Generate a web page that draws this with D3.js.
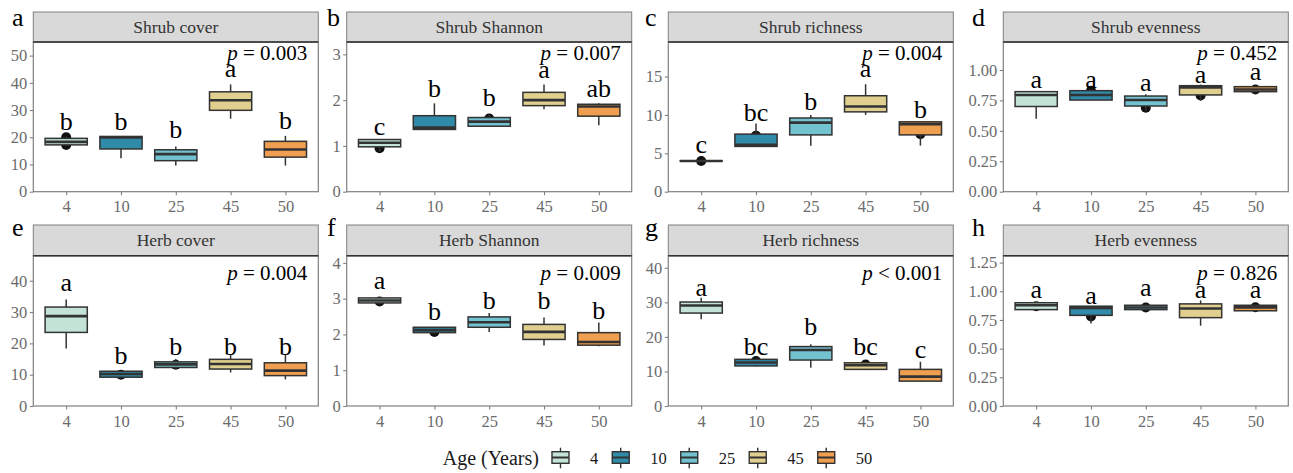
<!DOCTYPE html>
<html>
<head>
<meta charset="utf-8">
<script src="https://cdn.jsdelivr.net/npm/d3@7"></script>
<style>
  body { margin: 0; background: #fff; }
  svg text { font-family: "Liberation Serif", "Times New Roman", serif; }
</style>
</head>
<body>
<div id="chart"></div>
<script>
// ---- data ----
const ages = ['4', '10', '25', '45', '50'];
const ageColors = ['#c3e3d6', '#2f8ba7', '#73c2d0', '#e0cf8f', '#ef9f4f'];

const tags = ['a', 'b', 'c', 'd', 'e', 'f', 'g', 'h'];
const titles = ['Shrub cover', 'Shrub Shannon', 'Shrub richness', 'Shrub evenness',
                'Herb cover', 'Herb Shannon', 'Herb richness', 'Herb evenness'];
const pSigns = ['=', '=', '=', '=', '=', '=', '<', '='];
const pValues = ['0.003', '0.007', '0.004', '0.452', '0.004', '0.009', '0.001', '0.826'];

const yTops = [55, 3.27, 19.5, 1.23, 48, 4.2, 43.5, 1.31];
const yTicks = [
  [0, 10, 20, 30, 40, 50],
  [0, 1, 2, 3],
  [0, 5, 10, 15],
  [0, 0.25, 0.5, 0.75, 1],
  [0, 10, 20, 30, 40],
  [0, 1, 2, 3, 4],
  [0, 10, 20, 30, 40],
  [0, 0.25, 0.5, 0.75, 1, 1.25]
];

// [min, q1, median, q3, max] for each age
const shrubCover = [[16.8, 17.2, 18.3, 19.6, 20.3], [12.3, 15.7, 19.9, 20.3, 20.3], [9.6, 11.4, 13.8, 15.4, 16.6],
                    [26.8, 29.9, 33.6, 36.7, 39.4], [9.6, 12.7, 15.5, 18.5, 20.5]];
const shrubShannon = [[0.88, 0.98, 1.07, 1.14, 1.15], [1.36, 1.36, 1.40, 1.66, 1.93], [1.43, 1.43, 1.53, 1.62, 1.68],
                      [1.80, 1.88, 2.00, 2.17, 2.34], [1.45, 1.65, 1.86, 1.91, 1.93]];
const shrubRichness = [[4, 4, 4, 4, 4], [5.9, 5.9, 6.1, 7.5, 8.9], [6.0, 7.4, 9.0, 9.6, 10.0],
                       [10.0, 10.4, 11.1, 12.5, 14.0], [6.0, 7.4, 8.8, 9.1, 9.1]];
const shrubEvenness = [[0.60, 0.70, 0.795, 0.822, 0.822], [0.753, 0.753, 0.795, 0.83, 0.84], [0.663, 0.704, 0.753, 0.786, 0.80],
                       [0.748, 0.795, 0.857, 0.871, 0.88], [0.822, 0.822, 0.84, 0.863, 0.863]];
const herbCover = [[18.4, 23.5, 28.7, 31.6, 34.0], [9.2, 9.2, 10.2, 11.1, 11.1], [12.0, 12.3, 13.3, 14.1, 15.0],
                   [10.7, 11.8, 13.4, 14.9, 16.5], [8.5, 9.7, 11.3, 13.8, 16.3]];
const herbShannon = [[2.87, 2.88, 2.95, 3.02, 3.03], [2.03, 2.05, 2.12, 2.20, 2.20], [2.07, 2.20, 2.34, 2.49, 2.60],
                     [1.69, 1.86, 2.07, 2.28, 2.47], [1.67, 1.70, 1.79, 2.05, 2.33]];
const herbRichness = [[25.1, 26.9, 29.1, 30.1, 31.3], [11.5, 11.6, 12.6, 13.5, 13.5], [11.1, 13.3, 16.2, 17.2, 17.9],
                      [10.4, 10.6, 11.8, 12.5, 12.5], [7.0, 7.2, 8.5, 10.6, 12.8]];
const herbEvenness = [[0.84, 0.84, 0.878, 0.90, 0.90], [0.72, 0.79, 0.855, 0.87, 0.87], [0.84, 0.84, 0.858, 0.878, 0.878],
                      [0.70, 0.77, 0.85, 0.89, 0.92], [0.83, 0.83, 0.86, 0.878, 0.878]];
const boxStats = [shrubCover, shrubShannon, shrubRichness, shrubEvenness,
                  herbCover, herbShannon, herbRichness, herbEvenness];

// visible sample points [age index, value]
const dots = [
  [[0, 20.0], [0, 17.2]],
  [[0, 0.95], [2, 1.60]],
  [[0, 4], [1, 7.3], [4, 7.5]],
  [[1, 0.83], [2, 0.69], [3, 0.79], [4, 0.84]],
  [[1, 10.0], [2, 13.2]],
  [[0, 2.92], [1, 2.07]],
  [[1, 13.0], [3, 12.0]],
  [[0, 0.87], [1, 0.78], [2, 0.858], [4, 0.86]]
];

// significance letters and their heights
const sigLetters = [
  ['b', 'b', 'b', 'a', 'b'], ['c', 'b', 'b', 'a', 'ab'], ['c', 'bc', 'b', 'a', 'b'], ['a', 'a', 'a', 'a', 'a'],
  ['a', 'b', 'b', 'b', 'b'], ['a', 'b', 'b', 'b', 'b'], ['a', 'bc', 'b', 'bc', 'c'], ['a', 'a', 'a', 'a', 'a']
];
const letterY = [
  [22.8, 22.8, 19.7, 42.2, 23.0], [1.24, 2.07, 1.87, 2.49, 2.07], [5.0, 9.26, 10.65, 14.9, 9.57], [0.85, 0.85, 0.83, 0.89, 0.92],
  [36.8, 13.4, 16.3, 16.3, 16.3], [3.26, 2.4, 2.7, 2.7, 2.42], [31.7, 14.8, 20.6, 14.8, 13.8], [0.945, 0.893, 0.957, 0.945, 0.945]
];

// ---- layout ----
const width = 1293, height = 473;
const serif = '"Liberation Serif", "Times New Roman", serif';
const panelW = 285;
const colX = [33.3, 346.7, 668.3, 1003.3];
const tagX = [12, 327, 645, 972];
const rows = [
  { strip: 12, top: 42, bottom: 191.7, tagY: 26, pOff: 18 },
  { strip: 225, top: 255.7, bottom: 406, tagY: 236, pOff: 24 }
];
const edge = '#808080';
const ink = '#333333';

const svg = d3.select('#chart')
  .append('svg')
  .attr('width', width)
  .attr('height', height);

tags.forEach((tag, i) => {
  const L = colX[i % 4];
  const row = rows[Math.floor(i / 4)];
  const g = svg.append('g');

  const x = d3.scalePoint().domain(ages).range([L, L + panelW]).padding(0.6);
  const y = d3.scaleLinear().domain([0, yTops[i]]).range([row.bottom, row.top]);
  const bw = x.step() * 0.77;

  // panel background
  g.append('rect')
    .attr('x', L).attr('y', row.top)
    .attr('width', panelW).attr('height', row.bottom - row.top)
    .attr('fill', '#fff');

  // strip
  g.append('rect')
    .attr('x', L).attr('y', row.strip)
    .attr('width', panelW).attr('height', row.top - row.strip)
    .attr('fill', '#d9d9d9').attr('stroke', edge).attr('stroke-width', 1);
  g.append('text')
    .attr('x', L + panelW / 2).attr('y', row.strip + 20.5)
    .attr('text-anchor', 'middle')
    .attr('font-size', 17.5).attr('fill', ink)
    .text(titles[i]);

  // axes
  const fmt = yTops[i] < 2 ? d3.format('.2f') : d3.format('d');
  const yAxis = g.append('g')
    .attr('transform', `translate(${L},0)`)
    .call(d3.axisLeft(y).tickValues(yTicks[i]).tickSize(3.5).tickPadding(2.5).tickFormat(fmt));
  const xAxis = g.append('g')
    .attr('transform', `translate(0,${row.bottom})`)
    .call(d3.axisBottom(x).tickSize(3.5).tickPadding(5.5));
  [yAxis, xAxis].forEach(ax => {
    ax.attr('font-family', serif).attr('font-size', 16.5);
    ax.select('.domain').remove();
    ax.selectAll('line').attr('stroke', edge).attr('stroke-width', 1.1);
    ax.selectAll('text')
      .attr('font-size', 16.5)
      .attr('fill', '#6b6b6b')
      .style('font-family', serif);
  });

  // sample points under the boxes
  g.selectAll('circle.pt')
    .data(dots[i])
    .enter()
    .append('circle')
    .attr('cx', d => x(ages[d[0]]))
    .attr('cy', d => y(d[1]))
    .attr('r', 5)
    .attr('fill', '#111');

  // boxes
  const box = g.selectAll('g.box')
    .data(boxStats[i])
    .enter()
    .append('g');
  box.append('line')
    .attr('x1', (d, j) => x(ages[j])).attr('x2', (d, j) => x(ages[j]))
    .attr('y1', d => y(d[4])).attr('y2', d => y(d[0]))
    .attr('stroke', ink).attr('stroke-width', 1.5);
  box.append('rect')
    .attr('x', (d, j) => x(ages[j]) - bw / 2)
    .attr('y', d => y(d[3]))
    .attr('width', bw)
    .attr('height', d => Math.max(0.01, y(d[1]) - y(d[3])))
    .attr('fill', (d, j) => ageColors[j])
    .attr('stroke', ink).attr('stroke-width', 1.5);
  box.append('line')
    .attr('x1', (d, j) => x(ages[j]) - bw / 2).attr('x2', (d, j) => x(ages[j]) + bw / 2)
    .attr('y1', d => y(d[2])).attr('y2', d => y(d[2]))
    .attr('stroke', ink).attr('stroke-width', 2.6);

  // significance letters
  g.selectAll('text.sig')
    .data(sigLetters[i])
    .enter()
    .append('text')
    .attr('x', (d, j) => x(ages[j]))
    .attr('y', (d, j) => y(letterY[i][j]))
    .attr('text-anchor', 'middle')
    .attr('font-size', 26).attr('fill', '#000')
    .text(d => d);

  // p value
  const pt = g.append('text')
    .attr('x', L + panelW - 11).attr('y', row.top + row.pOff)
    .attr('text-anchor', 'end')
    .attr('font-size', 21).attr('fill', '#000');
  pt.append('tspan').attr('font-style', 'italic').text('p');
  pt.append('tspan').text(` ${pSigns[i]} ${pValues[i]}`);

  // panel border, and the dark line under the strip
  g.append('rect')
    .attr('x', L).attr('y', row.top)
    .attr('width', panelW).attr('height', row.bottom - row.top)
    .attr('fill', 'none').attr('stroke', edge).attr('stroke-width', 1.2);
  g.append('line')
    .attr('x1', L).attr('x2', L + panelW)
    .attr('y1', row.top).attr('y2', row.top)
    .attr('stroke', ink).attr('stroke-width', 1.6);

  // panel tag
  svg.append('text')
    .attr('x', tagX[i % 4]).attr('y', row.tagY)
    .attr('font-size', 26).attr('fill', '#000')
    .text(tag);
});

// ---- legend ----
const legend = svg.append('g');
const legTitle = legend.append('text')
  .attr('x', 442.7).attr('y', 465)
  .attr('font-size', 20).attr('fill', '#1a1a1a')
  .text('Age (Years)');
let lx = 442.7 + legTitle.node().getComputedTextLength() + 13;
const keyW = 17, keyTop = 451.7, keyBot = 463.3;
ages.forEach((age, j) => {
  legend.append('line')
    .attr('x1', lx + keyW / 2).attr('x2', lx + keyW / 2)
    .attr('y1', 447.7).attr('y2', 468.3)
    .attr('stroke', ink).attr('stroke-width', 1.4);
  legend.append('rect')
    .attr('x', lx).attr('y', keyTop)
    .attr('width', keyW).attr('height', keyBot - keyTop)
    .attr('fill', ageColors[j]).attr('stroke', ink).attr('stroke-width', 1.4);
  legend.append('line')
    .attr('x1', lx).attr('x2', lx + keyW)
    .attr('y1', (keyTop + keyBot) / 2).attr('y2', (keyTop + keyBot) / 2)
    .attr('stroke', ink).attr('stroke-width', 2);
  const t = legend.append('text')
    .attr('x', lx + keyW + 21).attr('y', 464)
    .attr('font-size', 16.5).attr('fill', '#1a1a1a')
    .text(age);
  lx += keyW + 21 + t.node().getComputedTextLength() + 14;
});
</script>
</body>
</html>
